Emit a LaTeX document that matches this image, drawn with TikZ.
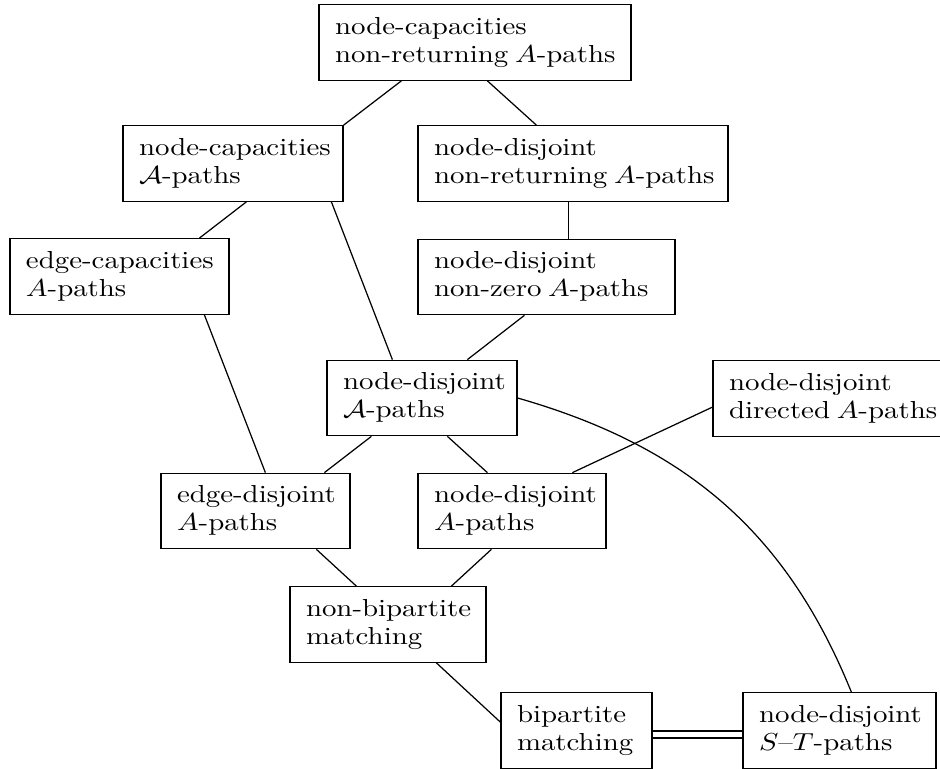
\documentclass[tikz,border=0pt]{standalone}
\usepackage{graphicx}
\usetikzlibrary{calc}
\def\pxu{0.2845pt}
\newcommand\bt[2]{\scalebox{0.821}[0.7]{\fontsize{10}{11.43}\selectfont\begin{tabular}{@{}l@{}}#1\\#2\end{tabular}}}
\tikzset{
  bx/.style={draw, line width=0.35pt, minimum height=75.5*\pxu, inner xsep=16*\pxu, inner ysep=0pt, align=left, font=\fontsize{7}{8}\selectfont},
  cn/.style={line width=0.35pt},
  wd/.style={text width=(#1-32)*\pxu}
}
\begin{document}
\begin{tikzpicture}[x=0.2845pt, y=-0.2845pt]
\useasboundingbox (0,0) rectangle (940,769);
\node[bx, wd=312] (A) at (475,42.5) {\bt{node-capacities}{non-returning $A$-paths}};
\node[bx, wd=220] (B) at (233,163.5) {\bt{node-capacities}{$\mathcal{A}$-paths}};
\node[bx, wd=310] (C) at (573,163.5) {\bt{node-disjoint}{non-returning $A$-paths}};
\node[bx, wd=219] (D) at (119.5,276.5) {\bt{edge-capacities}{$A$-paths}};
\node[bx, wd=257] (E) at (546.5,277) {\bt{node-disjoint}{non-zero $A$-paths}};
\node[bx, wd=190] (F) at (422,398) {\bt{node-disjoint}{$\mathcal{A}$-paths}};
\node[bx, wd=242] (G) at (834,398.5) {\bt{node-disjoint}{directed $A$-paths}};
\node[bx, wd=189] (H) at (255.5,511) {\bt{edge-disjoint}{$A$-paths}};
\node[bx, wd=188] (I) at (512,511) {\bt{node-disjoint}{$A$-paths}};
\node[bx, wd=196] (J) at (388,624.5) {\bt{non-bipartite}{matching}};
\node[bx, wd=151] (K) at (576.5,730.5) {\bt{bipartite}{matching}};
\node[bx, wd=193] (L) at (839.5,730.5) {\bt{node-disjoint}{$S$--$T$-paths}};
\draw[cn] ($(A.south west)+(83,0)$) -- (B.north east);
\draw[cn] ($(A.south west)+(169,0)$) -- ($(C.north west)+(119,0)$);
\draw[cn] ($(B.south west)+(124,0)$) -- ($(D.north west)+(190,0)$);
\draw[cn] ($(B.south west)+(209,0)$) -- ($(F.north west)+(66,0)$);
\draw[cn] ($(C.south west)+(151,0)$) -- ($(E.north west)+(151,0)$);
\draw[cn] ($(E.south west)+(107,0)$) -- ($(F.north west)+(141,0)$);
\draw[cn] ($(D.south west)+(195,0)$) -- ($(H.north west)+(105,0)$);
\draw[cn] ($(F.south west)+(45,0)$) -- ($(H.north west)+(164,0)$);
\draw[cn] ($(F.south west)+(121,0)$) -- ($(I.north west)+(70,0)$);
\draw[cn] ($(G.north west)+(0,47)$) -- ($(I.north west)+(155,0)$);
\draw[cn] ($(H.south west)+(156,0)$) -- ($(J.north west)+(67,0)$);
\draw[cn] ($(I.south west)+(74,0)$) -- ($(J.north west)+(162,0)$);
\draw[cn] ($(J.south west)+(147,0)$) -- ($(K.north west)+(0,30)$);
\draw[cn, double, double distance=1.7pt] ($(K.east)+(0,4)$) -- ($(L.west)+(0,4)$);
\draw[cn] (F.east) .. controls (685,446) and (786,531) .. ($(L.north west)+(109,0)$);
\end{tikzpicture}
\end{document}
